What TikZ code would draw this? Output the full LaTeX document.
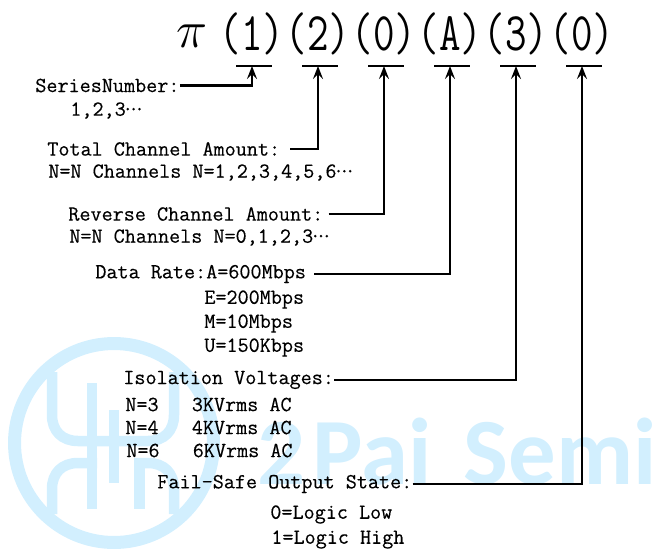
\documentclass[tikz,border=0pt]{standalone}
\usepackage{amsmath,graphicx}
\usepackage{fontspec}
\usetikzlibrary{arrows.meta,positioning}
\newfontfamily\wmfont{Carlito}
\newfontfamily\lblfont{Latin Modern Mono}[FakeBold=0.35]
\definecolor{wmblue}{HTML}{D2EFFE}
\newcommand{\tallcode}[1]{\scalebox{1}[1.3]{#1}}
\newcommand{\tdots}{\kern-2pt·\kern-3pt·\kern-3pt·}
\begin{document}
\begin{tikzpicture}[>={Stealth[length=2.6mm,width=2mm,inset=1mm]},x=0.02cm,y=-0.02cm,
    lbl/.style={anchor=west,inner sep=0pt,font=\fontsize{12.25}{14}\selectfont\lblfont},
    code/.style={anchor=center,inner sep=0pt,font=\fontsize{23.8}{28}\selectfont\ttfamily},
    conn/.style={line width=1.6pt,->},
    wm/.style={wmblue,line width=0.21cm}]
    \useasboundingbox (0,0) rectangle (652,548);
    % watermark
    \draw[wmblue,line width=0.26cm] (114,443) circle[radius=1.99cm];
    \draw[wm] (52,372) -- (52,415) .. controls (52,431) and (62,441) .. (78,441) -- (148,441) .. controls (164,441) and (174,431) .. (174,415) -- (174,372);
    \draw[wm] (52,514) -- (52,489) .. controls (52,473) and (62,463) .. (78,463) -- (97,463);
    \draw[wm] (134,463) -- (148,463) .. controls (164,463) and (174,473) .. (174,489) -- (174,514);
    \draw[wm] (92,383) -- (92,509) (114,410) -- (114,483) (139.5,463) -- (139.5,509);
    \node[anchor=base west,inner sep=0pt,text=wmblue,font=\fontsize{54}{60}\selectfont\wmfont\bfseries] (brand) at (257,484) {2\kern-8pt\ Pai\kern6pt\ Semi};
    % part number
    \node[code] (pi) at (192,36) {\scalebox{1.2}{$\pi$}};
    \node[code] (c1) at (252,34) {\tallcode{(1)}};
    \node[code] (c2) at (318,34) {\tallcode{(2)}};
    \node[code] (c3) at (384,34) {\tallcode{(0)}};
    \node[code] (c4) at (450,34) {\tallcode{(A)}};
    \node[code] (c5) at (516,34) {\tallcode{(3)}};
    \node[code] (c6) at (582,34) {\tallcode{(0)}};
    \foreach \n in {1,...,6} {
      \coordinate (t\n) at (c\n.center |- 0,66);
      \draw[line width=1.2pt] ([xshift=-0.32cm]t\n) -- ([xshift=0.4cm]t\n);
    }
    % labels
    \node[lbl] (sn) at (35,85.5) {SeriesNumber:};
    \node[lbl] (sn1) at (70,110.5) {1,2,3\tdots};
    \node[lbl] (tc) at (47,149) {Total Channel Amount:};
    \node[lbl] (tc1) at (48,172.5) {N=N Channels N=1,2,3,4,5,6\tdots};
    \node[lbl] (rc) at (68,214) {Reverse Channel Amount:};
    \node[lbl] (rc1) at (69,237.5) {N=N Channels N=0,1,2,3\tdots};
    \node[lbl] (dr) at (95,274) {Data Rate:A=600Mbps};
    \node[lbl] (dr1) at (204,299.5) {E=200Mbps};
    \node[lbl] (dr2) at (204,323.5) {M=10Mbps};
    \node[lbl] (dr3) at (204,347.5) {U=150Kbps};
    \node[lbl] (iv) at (123,380) {Isolation Voltages:};
    \node[lbl] (iv1) at (125,404.5) {N=3\ \ \ 3KVrms AC};
    \node[lbl] (iv2) at (125,427.5) {N=4\ \ \ 4KVrms AC};
    \node[lbl] (iv3) at (126,450.5) {N=6\ \ \ 6KVrms AC};
    \node[lbl] (fs) at (157,484) {Fail-Safe Output State:};
    \node[lbl] (fs1) at (270,514.5) {0=Logic Low};
    \node[lbl] (fs2) at (271,539.5) {1=Logic High};
    % connectors
    \draw[conn] (sn.east) -| (t1);
    \draw[conn] (tc.east) ++(10,0) -| (t2);
    \draw[conn] (rc.east) ++(5,0) -| (t3);
    \draw[conn] (dr.east) ++(8,0) -| (t4);
    \draw[conn] (iv.east) -| (t5);
    \draw[conn] (fs.east) -| (t6);
\end{tikzpicture}
\end{document}
